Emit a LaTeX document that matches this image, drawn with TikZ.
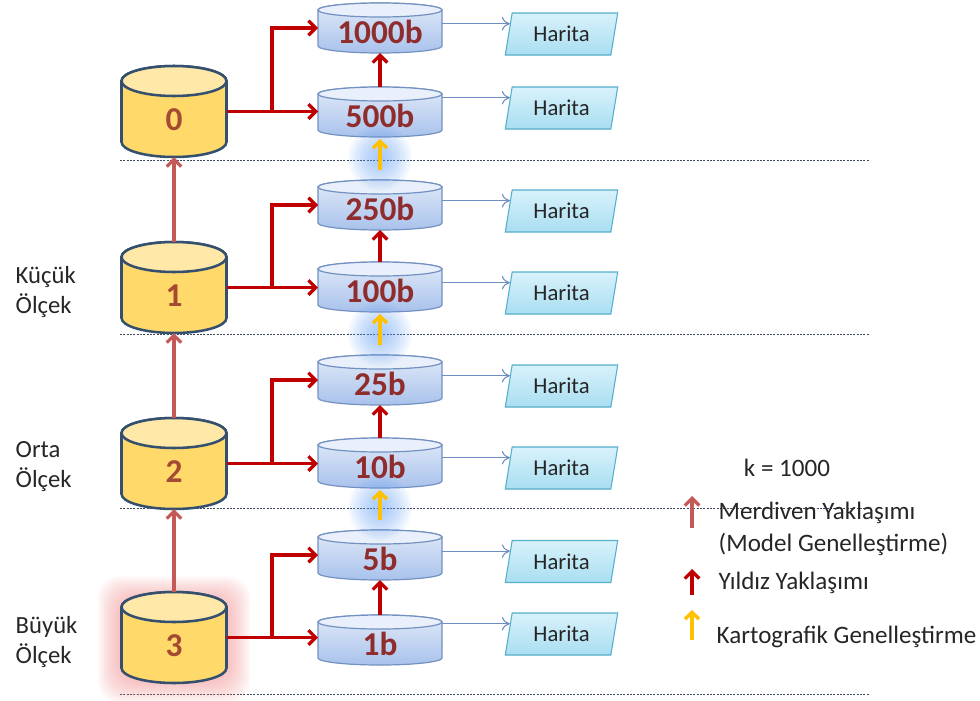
\documentclass[tikz,border=0pt]{standalone}
\usepackage{fontspec}
\setmainfont{Carlito}
\usetikzlibrary{arrows.meta,shapes.geometric,calc}

\definecolor{cylgold}{HTML}{FFD96A}
\definecolor{cylgoldtop}{HTML}{FFE8A8}
\definecolor{cylrim}{HTML}{35506E}
\definecolor{numbrown}{HTML}{A44A32}
\definecolor{numred}{HTML}{8F2D2D}
\definecolor{scyltop}{HTML}{E1EAF8}
\definecolor{scylbot}{HTML}{A9C2EC}
\definecolor{scyllid}{HTML}{E9F0FB}
\definecolor{scylrim}{HTML}{7391C0}
\definecolor{mapfilltop}{HTML}{D8F2FB}
\definecolor{mapfillbot}{HTML}{A9DEF1}
\definecolor{maprim}{HTML}{55AECB}
\definecolor{linkblue}{HTML}{6D8FC2}
\definecolor{starred}{HTML}{C00000}
\definecolor{ladderred}{HTML}{C45A58}
\definecolor{cartoyellow}{HTML}{FFC000}
\definecolor{glowblue}{HTML}{5E9CF2}
\definecolor{glowred}{HTML}{F08A8A}
\definecolor{rulegray}{HTML}{3C4A5C}
\definecolor{labelgray}{HTML}{262626}

\tikzset{
  bigbody/.style={fill=cylgold, draw=cylrim, line width=1.9pt},
  bigtop/.style={fill=cylgoldtop, draw=cylrim, line width=1.9pt},
  smallbody/.style={top color=scyltop, bottom color=scylbot, draw=scylrim, line width=0.9pt},
  smalltop/.style={fill=scyllid, draw=scylrim, line width=0.9pt},
  cylframe/.style={inner sep=0pt, outer sep=0pt},
  bignum/.style={font=\fontsize{25}{25}\selectfont\bfseries, text=numbrown},
  smallnum/.style={font=\fontsize{25}{25}\selectfont\bfseries, text=numred},
  mapbox/.style={trapezium, trapezium stretches=true,
    trapezium left angle=76, trapezium right angle=104,
    minimum width=84.75pt, minimum height=31.5pt, inner sep=0pt,
    top color=mapfilltop, bottom color=mapfillbot, draw=maprim, line width=0.8pt,
    font=\fontsize{17}{17}\selectfont, text=labelgray},
  maplink/.style={draw=linkblue, line width=0.8pt, -{To[length=6pt,width=10pt]}},
  stararrow/.style={draw=starred, line width=2.4pt, -{Straight Barb[length=5.5pt,width=11pt]}},
  ladderarrow/.style={draw=ladderred, line width=2.4pt, -{Straight Barb[length=5.5pt,width=11pt]}},
  cartoarrow/.style={draw=cartoyellow, line width=2.6pt, -{Straight Barb[length=5pt,width=10.5pt]}},
  ruleline/.style={draw=rulegray, line width=0.6pt, dash pattern=on 1.5pt off 1pt},
  sidelabel/.style={anchor=west, align=left, font=\fontsize{18.5}{22.5}\selectfont, text=labelgray},
  legendtext/.style={anchor=west, align=left, font=\fontsize{18.8}{23.5}\selectfont, text=labelgray}
}

% cylinder outline: centre x, top y, half width, height, lid radius, body style, lid style
\newcommand\cylsilhouette[7]{%
  \pgfmathsetmacro\cyltop{#2+#5}%
  \pgfmathsetmacro\cylbot{#2+#4-#5}%
  \path[#6] (#1-#3,\cyltop) -- (#1-#3,\cylbot)
    arc[start angle=180,end angle=0,x radius=#3,y radius=#5]
    -- (#1+#3,\cyltop)
    arc[start angle=0,end angle=-180,x radius=#3,y radius=#5] -- cycle;
  \path[#7] (#1,\cyltop) ellipse[x radius=#3,y radius=#5];
}
% large model database
\newcommand\bigdb[3]{%
  \cylsilhouette{174}{#2}{52.5}{91}{15}{bigbody}{bigtop}
  \node[cylframe, minimum width=78.75pt, minimum height=68.25pt] (#1) at (174,#2+45.5) {};
  \node[bignum] (#1-num) at (174,#2+54) {#3};
}
% scale database
\newcommand\smalldb[3]{%
  \cylsilhouette{380}{#2}{62}{50}{7}{smallbody}{smalltop}
  \node[cylframe, minimum width=93pt, minimum height=37.5pt] (#1) at (380,#2+25) {};
  \node[smallnum] (#1-num) at (380,#2+29) {#3};
}
% map sheet with its entry point
\newcommand\mapsheet[2]{%
  \node[mapbox] (#1) at (561.5,#2) {Harita};
  \coordinate (#1-in) at ($(#1.top left corner)!0.26!(#1.bottom left corner)$);
}
% soft blue halo
\newcommand\glowspot[4]{%
  \foreach \g in {1,...,14}{\fill[glowblue, opacity=0.055] (#1,#2) ellipse[x radius=#3*\g/14, y radius=#4*\g/14];}
}

\begin{document}
\begin{tikzpicture}[x=0.75pt, y=-0.75pt]
\useasboundingbox (0,0) rectangle (980,700);

% level separators
\foreach \ry in {160,334,508,694}{\draw[ruleline] (120,\ry) -- (870,\ry);}

% halo of the base model
\foreach \g in {1,...,24}{\fill[glowred, opacity=0.032, rounded corners=16pt]
  (121.5-\g*1,600-\g*1) rectangle (226.5+\g*1,679+\g*1);}

% model databases
\bigdb{c0}{66}{0}
\bigdb{c1}{242}{1}
\bigdb{c2}{418}{2}
\bigdb{c3}{592}{3}

% scale databases
\smalldb{s1000}{3}{1000b}
\smalldb{s500}{87}{500b}
\smalldb{s250}{180}{250b}
\smalldb{s100}{262}{100b}
\smalldb{s25}{355}{25b}
\smalldb{s10}{438}{10b}
\smalldb{s5}{530}{5b}
\smalldb{s1}{615}{1b}

% cartographic generalisation halos
\glowspot{380}{158}{32}{33}
\glowspot{380}{334}{32}{33}
\glowspot{380}{508}{32}{33}

% maps
\mapsheet{h1000}{34}
\mapsheet{h500}{108}
\mapsheet{h250}{211}
\mapsheet{h100}{293}
\mapsheet{h25}{386}
\mapsheet{h10}{468}
\mapsheet{h5}{561.5}
\mapsheet{h1}{634}

\foreach \m in {1000,500,250,100,25,10,5,1}{
  \draw[maplink] (s\m.east |- h\m-in) -- (h\m-in);
}

% ladder approach
\draw[ladderarrow] (c3.north) -- (c2.south);
\draw[ladderarrow] (c2.north) -- (c1.south);
\draw[ladderarrow] (c1.north) -- (c0.south);

% star approach: model to its two scales
\coordinate (b0) at (272,111.5);
\coordinate (b1) at (272,287.5);
\coordinate (b2) at (272,463.5);
\coordinate (b3) at (272,637.5);
\draw[stararrow] (c0.east) -- (c0.east -| s500.west);
\draw[stararrow] (b0) |- (s1000.west);
\draw[stararrow] (c1.east) -- (c1.east -| s100.west);
\draw[stararrow] (b1) |- (s250.west);
\draw[stararrow] (c2.east) -- (c2.east -| s10.west);
\draw[stararrow] (b2) |- (s25.west);
\draw[stararrow] (c3.east) -- (c3.east -| s1.west);
\draw[stararrow] (b3) |- (s5.west);

\draw[stararrow] (s500.north) -- (s1000.south);
\draw[stararrow] (s100.north) -- (s250.south);
\draw[stararrow] (s10.north) -- (s25.south);
\draw[stararrow] (s1.north) -- (s5.south);

% cartographic generalisation
\draw[cartoarrow] ([yshift=7.5pt]s250.north) -- ([yshift=-1.5pt]s500.south);
\draw[cartoarrow] ([yshift=7.5pt]s25.north) -- ([yshift=-1.5pt]s100.south);
\draw[cartoarrow] ([yshift=7.5pt]s5.north) -- ([yshift=-1.5pt]s10.south);

% scale labels
\node[sidelabel] (lsmall) at (11,292) {Küçük\\Ölçek};
\node[sidelabel] (lmid) at (11,467) {Orta\\Ölçek};
\node[sidelabel] (llarge) at (11,642) {Büyük\\Ölçek};

% legend
\node[font=\fontsize{18.8}{20}\selectfont, text=labelgray] (kval) at (787,468) {k = 1000};
\coordinate (lg1a) at (692,528); \coordinate (lg1b) at (692,496);
\coordinate (lg2a) at (692,595); \coordinate (lg2b) at (692,569);
\coordinate (lg3a) at (692,640); \coordinate (lg3b) at (692,610);
\draw[ladderarrow] (lg1a) -- (lg1b);
\draw[stararrow] (lg2a) -- (lg2b);
\draw[cartoarrow] (lg3a) -- (lg3b);
\node[legendtext] (lgt1) at (714,529) {Merdiven Yaklaşımı\\(Model Genelleştirme)};
\node[legendtext] (lgt2) at (714,583) {Yıldız Yaklaşımı};
\node[legendtext] (lgt3) at (712,637) {Kartografik Genelleştirme};
\end{tikzpicture}
\end{document}
